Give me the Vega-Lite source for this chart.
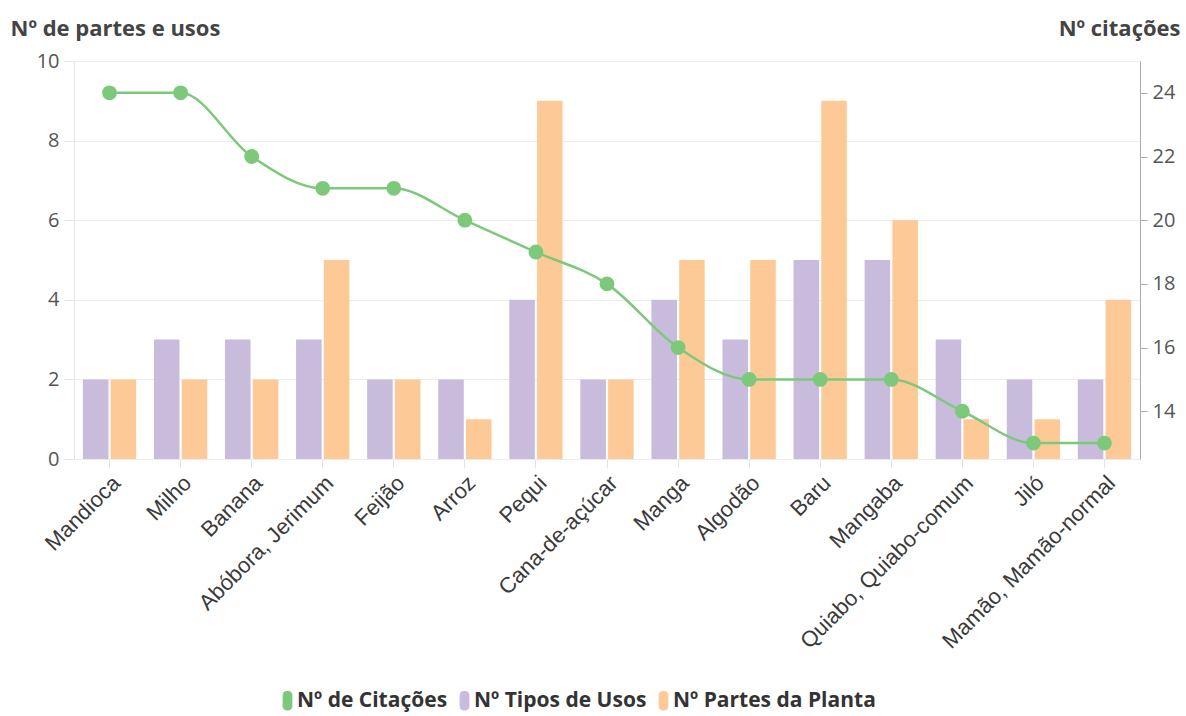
{
  "$schema": "https://vega.github.io/schema/vega-lite/v6.json",
  "width": 1066,
  "height": 398,
  "autosize": {"type": "none"},
  "padding": {"left": 74, "top": 61, "right": 46, "bottom": 257},
  "background": "white",
  "config": {"font": "Open Sans", "view": {"stroke": null}},
  "data": {"values": [
    {"cultura": "Mandioca", "usos": 2, "partes": 2, "citacoes": 24},
    {"cultura": "Milho", "usos": 3, "partes": 2, "citacoes": 24},
    {"cultura": "Banana", "usos": 3, "partes": 2, "citacoes": 22},
    {"cultura": "Abóbora, Jerimum", "usos": 3, "partes": 5, "citacoes": 21},
    {"cultura": "Feijão", "usos": 2, "partes": 2, "citacoes": 21},
    {"cultura": "Arroz", "usos": 2, "partes": 1, "citacoes": 20},
    {"cultura": "Pequi", "usos": 4, "partes": 9, "citacoes": 19},
    {"cultura": "Cana-de-açúcar", "usos": 2, "partes": 2, "citacoes": 18},
    {"cultura": "Manga", "usos": 4, "partes": 5, "citacoes": 16},
    {"cultura": "Algodão", "usos": 3, "partes": 5, "citacoes": 15},
    {"cultura": "Baru", "usos": 5, "partes": 9, "citacoes": 15},
    {"cultura": "Mangaba", "usos": 5, "partes": 6, "citacoes": 15},
    {"cultura": "Quiabo, Quiabo-comum", "usos": 3, "partes": 1, "citacoes": 14},
    {"cultura": "Jiló", "usos": 2, "partes": 1, "citacoes": 13},
    {"cultura": "Mamão, Mamão-normal", "usos": 2, "partes": 4, "citacoes": 13}
  ]},
  "layer": [
    {
      "transform": [{"fold": ["usos", "partes"], "as": ["serie", "valor"]}],
      "mark": {"type": "bar"},
      "encoding": {
        "x": {
          "field": "cultura", "type": "nominal", "sort": null,
          "scale": {"paddingInner": 0.25, "paddingOuter": 0.125},
          "axis": {
            "title": null, "labelAngle": -45, "labelFont": "Liberation Sans", "labelFontSize": 22, "labelColor": "#3a3a3a",
            "labelLimit": 0, "tickColor": "#e4e4e4", "tickSize": 9, "domain": false, "grid": false, "labelPadding": 4
          }
        },
        "xOffset": {"field": "serie", "sort": ["usos", "partes"], "scale": {"paddingInner": 0.08}},
        "y": {
          "field": "valor", "type": "quantitative",
          "scale": {"domain": [0, 10], "nice": false},
          "axis": {
            "title": "Nº de partes e usos", "titleAngle": 0, "titleX": -64, "titleY": -33,
            "titleAlign": "left", "titleBaseline": "middle", "titleFontSize": 22, "titleFontWeight": "bold",
            "titleColor": "#444", "values": [0, 2, 4, 6, 8, 10], "grid": true, "gridColor": "#ececec",
            "domainColor": "#e4e4e4", "tickColor": "#e4e4e4", "tickSize": 10, "labelFontSize": 20,
            "labelColor": "#555", "labelPadding": 5
          }
        },
        "color": {
          "field": "serie", "type": "nominal",
          "scale": {"domain": ["citacoes", "usos", "partes"], "range": ["#7dc97b", "#c9bbdc", "#fdca97"]},
          "legend": {
            "title": null, "orient": "none", "legendX": 203, "legendY": 629, "direction": "horizontal",
            "labelExpr": "datum.label == 'citacoes' ? 'Nº de Citações' : datum.label == 'usos' ? 'Nº Tipos de Usos' : 'Nº Partes da Planta'",
            "labelFontSize": 21, "labelFontWeight": "bold", "labelColor": "#333", "labelLimit": 0,
            "symbolType": "M-0.5,-0.6A0.4,0.4 0 0 1 -0.1,-1L0.1,-1A0.4,0.4 0 0 1 0.5,-0.6L0.5,0.6A0.4,0.4 0 0 1 0.1,1L-0.1,1A0.4,0.4 0 0 1 -0.5,0.6Z",
            "symbolSize": 380, "symbolStrokeWidth": 0, "symbolOpacity": 1, "labelOffset": -1, "columnPadding": 6
          }
        }
      }
    },
    {
      "mark": {
        "type": "line", "interpolate": "monotone", "color": "#7dc97b", "strokeWidth": 2.5,
        "point": {"size": 220, "filled": true, "color": "#7dc97b", "opacity": 1}
      },
      "encoding": {
        "x": {"field": "cultura", "type": "nominal", "sort": null},
        "y": {
          "field": "citacoes", "type": "quantitative",
          "scale": {"domain": [12.5, 25], "nice": false, "zero": false},
          "axis": {
            "orient": "right", "title": "Nº citações", "titleAngle": 0, "titleX": 40, "titleY": -33,
            "titleAlign": "right", "titleBaseline": "middle", "titleFontSize": 22, "titleFontWeight": "bold",
            "titleColor": "#444", "values": [14, 16, 18, 20, 22, 24], "grid": false,
            "domainColor": "#aaa", "tickColor": "#aaa", "tickSize": 7, "labelFontSize": 20,
            "labelColor": "#555", "labelPadding": 5
          }
        }
      }
    }
  ],
  "resolve": {"scale": {"y": "independent"}}
}
